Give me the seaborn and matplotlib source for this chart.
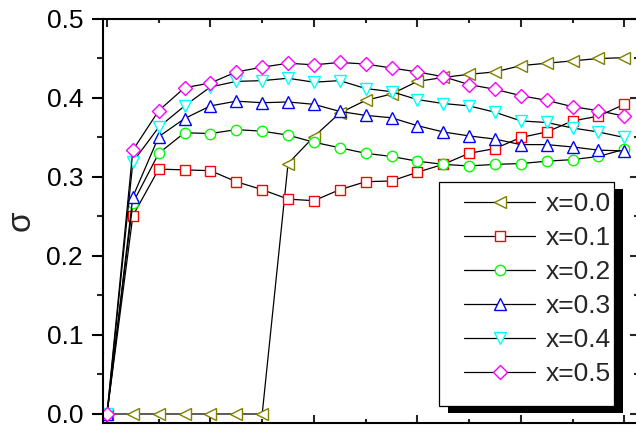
import pandas as pd
import matplotlib
matplotlib.use("Agg")
import matplotlib.pyplot as plt
from matplotlib.lines import Line2D
from matplotlib.patches import Rectangle
from matplotlib.ticker import FixedLocator, FormatStrFormatter, NullFormatter
import seaborn as sns

# step index along the x axis (tick labels are cropped away in the original)
steps = list(range(21))

sigma_x00 = [0.0, 0.0, 0.0, 0.0, 0.0, 0.0, 0.0, 0.317, 0.351, 0.381, 0.397,
             0.405, 0.421, 0.426, 0.430, 0.433, 0.441, 0.444, 0.447, 0.450, 0.451]
sigma_x01 = [0.0, 0.251, 0.310, 0.309, 0.308, 0.294, 0.284, 0.272, 0.270, 0.284, 0.294,
             0.295, 0.306, 0.316, 0.330, 0.336, 0.350, 0.357, 0.371, 0.377, 0.392]
sigma_x02 = [0.0, 0.267, 0.330, 0.356, 0.355, 0.360, 0.358, 0.353, 0.344, 0.337, 0.330,
             0.326, 0.320, 0.316, 0.314, 0.316, 0.317, 0.320, 0.322, 0.326, 0.335]
sigma_x03 = [0.0, 0.275, 0.351, 0.374, 0.390, 0.396, 0.394, 0.395, 0.392, 0.383, 0.378,
             0.375, 0.365, 0.357, 0.352, 0.348, 0.341, 0.341, 0.338, 0.334, 0.333]
sigma_x04 = [0.0, 0.319, 0.363, 0.390, 0.414, 0.421, 0.422, 0.425, 0.420, 0.422, 0.412,
             0.408, 0.398, 0.393, 0.390, 0.382, 0.371, 0.369, 0.362, 0.357, 0.350]
sigma_x05 = [0.0, 0.334, 0.384, 0.413, 0.419, 0.433, 0.439, 0.444, 0.442, 0.445, 0.443,
             0.438, 0.433, 0.427, 0.417, 0.411, 0.403, 0.397, 0.389, 0.384, 0.377]

series_labels = ['x=0.0', 'x=0.1', 'x=0.2', 'x=0.3', 'x=0.4', 'x=0.5']
series_values = [sigma_x00, sigma_x01, sigma_x02, sigma_x03, sigma_x04, sigma_x05]

y_ticks = [0.0, 0.1, 0.2, 0.3, 0.4, 0.5]

# Origin-like styling
colors = ['#808000', '#FF0000', '#00FF00', '#0000FF', '#00FFFF', '#FF00FF']
markers = ['<', 's', 'o', '^', 'v', 'D']
msizes = [9, 7, 7.5, 9, 9, 7.5]

df = pd.DataFrame({
    'step': steps * len(series_labels),
    'sigma': [v for vals in series_values for v in vals],
    'series': [lab for lab in series_labels for _ in steps],
})

sns.set_style('ticks')
plt.rcParams['font.family'] = ['Liberation Sans', 'DejaVu Sans']

W, H = 636, 430
fig = plt.figure(figsize=(W / 100, H / 100), dpi=100)
# axes placed in pixels: left spine 102.5, right spine just past the edge
ax = fig.add_axes([102.5 / W, 7 / H, (638 - 102.5) / W, (423 - 19) / H])

for lab, c, m, s in zip(series_labels, colors, markers, msizes):
    sns.lineplot(data=df[df['series'] == lab], x='step', y='sigma', ax=ax,
                 color='black', lw=0.9, marker=m, markersize=s,
                 markeredgecolor=c, markerfacecolor='white', markeredgewidth=1.0,
                 legend=False)

ax.set_xlim(-0.174, 20.53)
ax.set_ylim(-0.0114, 0.5)
ax.set_xlabel('')
ax.set_ylabel('σ', fontsize=24, labelpad=7)

ax.xaxis.set_major_locator(FixedLocator([0, 4, 8, 12, 16, 20]))
ax.xaxis.set_minor_locator(FixedLocator([2, 6, 10, 14, 18]))
ax.xaxis.set_major_formatter(NullFormatter())
ax.yaxis.set_major_locator(FixedLocator(y_ticks))
ax.yaxis.set_minor_locator(FixedLocator([0.05, 0.15, 0.25, 0.35, 0.45]))
ax.yaxis.set_major_formatter(FormatStrFormatter('%.1f'))

for sp in ax.spines.values():
    sp.set_linewidth(1.5)
    sp.set_color('black')

ax.tick_params(axis='y', which='major', direction='out', length=8, width=1.5,
               labelsize=19, pad=6, colors='black')
ax.tick_params(axis='y', which='minor', direction='out', length=4, width=1.5)
ax.tick_params(axis='x', which='major', direction='in', length=6, width=1.5,
               top=True, labelbottom=False)
ax.tick_params(axis='x', which='minor', direction='in', length=3, width=1.5, top=True)

# right-hand ticks point inwards
sec = ax.secondary_yaxis('right')
sec.yaxis.set_major_locator(FixedLocator(y_ticks))
sec.yaxis.set_minor_locator(FixedLocator([0.05, 0.15, 0.25, 0.35, 0.45]))
sec.tick_params(which='major', direction='in', length=6, width=1.5, labelright=False)
sec.tick_params(which='minor', direction='in', length=3, width=1.5)

# legend frame with hard black shadow, drawn by hand
box_l, box_t, box_r, box_b = 439, 182, 614, 406
shadow = Rectangle(((box_l + 8.5) / W, (H - box_b - 7) / H), (box_r - box_l) / W,
                   (box_b - box_t) / H, transform=fig.transFigure, facecolor='black',
                   edgecolor='none', zorder=4, clip_on=False)
frame = Rectangle((box_l / W, (H - box_b) / H), (box_r - box_l) / W, (box_b - box_t) / H,
                  transform=fig.transFigure, facecolor='white', edgecolor='black',
                  lw=0.9, zorder=4.5, clip_on=False)
ax.add_patch(shadow)
ax.add_patch(frame)

handles = [Line2D([], [], color='black', lw=0.9, marker=m, markersize=s,
                  markeredgecolor=c, markerfacecolor='white', markeredgewidth=1.0)
           for c, m, s in zip(colors, markers, msizes)]
ax.legend(handles, series_labels, loc='upper left', bbox_to_anchor=(464 / W, 1 - 192 / H),
          bbox_transform=fig.transFigure, frameon=False, fontsize=19,
          handlelength=2.7, handletextpad=0.4, labelspacing=0.38,
          borderpad=0, borderaxespad=0)

fig.savefig('out.png', dpi=100)
